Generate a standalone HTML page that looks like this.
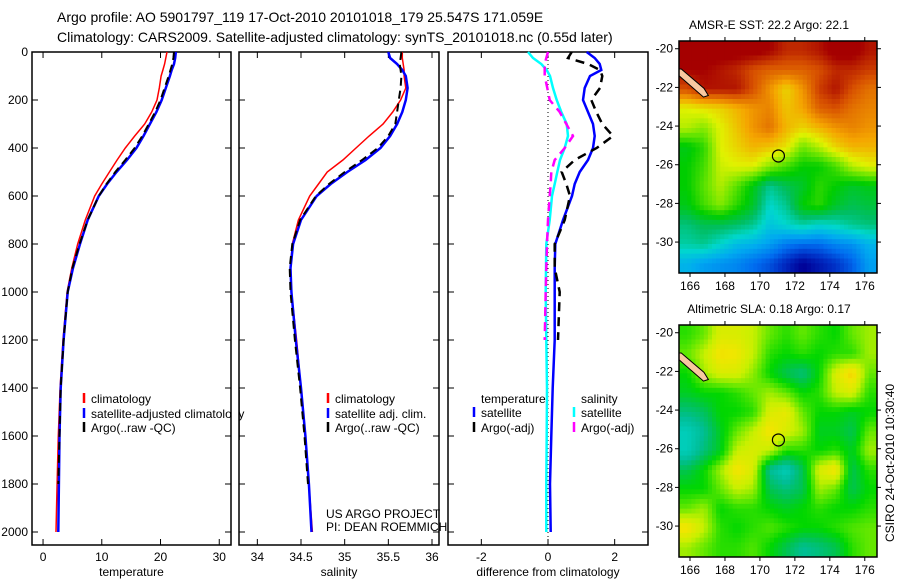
<!DOCTYPE html>
<html><head><meta charset="utf-8"><style>
body{margin:0;background:#fff;width:900px;height:580px;overflow:hidden}
svg{font-family:"Liberation Sans",sans-serif;font-size:12px}
</style></head><body>
<svg id="fig" width="900" height="580">
<text x="57" y="22" font-size="14">Argo profile: AO 5901797_119 17-Oct-2010 20101018_179 25.547S 171.059E</text>
<text x="57" y="42" font-size="14">Climatology: CARS2009. Satellite-adjusted climatology: synTS_20101018.nc (0.55d later)</text>
<text x="326" y="518">US ARGO PROJECT</text>
<text x="326" y="531">PI: DEAN ROEMMICH</text>
<text x="769" y="29" text-anchor="middle">AMSR-E SST: 22.2 Argo: 22.1</text>
<text x="769" y="313" text-anchor="middle">Altimetric SLA: 0.18 Argo: 0.17</text>
<text transform="translate(894,463) rotate(-90)" text-anchor="middle">CSIRO 24-Oct-2010 10:30:40</text>
</svg>
<script>
const depths=[0,25,50,75,100,150,200,250,300,350,400,450,500,550,600,700,800,900,1000,1200,1400,1600,1800,2000];
const tempClim=[21.1,20.9,20.7,20.4,20.1,19.8,19.4,18.5,17.3,15.6,14.0,12.6,11.3,10.0,8.8,7.2,5.9,4.9,4.1,3.4,2.9,2.6,2.4,2.2];
const tempSat=[22.6,22.5,22.3,21.9,21.6,20.9,20.2,19.3,18.2,17.1,15.9,14.3,12.5,10.9,9.5,7.6,6.3,5.1,4.2,3.5,3.0,2.8,2.7,2.6];
const tempArgo=[22.3,22.2,22.0,21.7,21.4,20.7,20.0,19.1,18.0,16.9,15.6,14.0,12.3,10.8,9.5,7.6,6.2,5.0,4.2,3.5,3.0,2.8,2.6,2.5];
const salClim=[35.66,35.66,35.67,35.68,35.68,35.7,35.64,35.55,35.44,35.28,35.13,34.98,34.8,34.7,34.6,34.47,34.4,34.38,34.39,34.45,34.5,34.55,34.59,34.63];
const salSat=[35.5,35.52,35.6,35.66,35.7,35.72,35.7,35.66,35.6,35.52,35.41,35.24,35.03,34.84,34.68,34.5,34.41,34.38,34.39,34.44,34.5,34.55,34.59,34.62];
const salArgo=[35.65,35.64,35.63,35.64,35.65,35.64,35.62,35.6,35.58,35.5,35.38,35.2,35.0,34.82,34.67,34.49,34.4,34.37,34.38,34.43,34.49,34.54,34.58,34.62];
const dTempSat=[1.16,1.4,1.55,1.6,1.26,1.1,1.05,1.2,1.35,1.4,1.35,1.2,0.95,0.8,0.72,0.45,0.22,0.2,0.2,0.2,0.14,0.1,0.06,0.08];
const dTempArgo=[0.71,0.6,1.2,1.56,1.63,1.56,1.3,1.45,1.63,1.95,1.46,0.8,0.41,0.55,0.66,0.5,0.2,0.2,0.35,0.3];
const dSalSat=[-0.6,-0.45,-0.2,-0.04,0.06,0.15,0.26,0.4,0.56,0.6,0.5,0.36,0.28,0.2,0.12,0.05,-0.05,-0.06,-0.07,-0.05,-0.03,-0.04,-0.05,-0.05];
const dSalArgo=[0.0,-0.05,-0.1,-0.1,-0.1,-0.02,0.05,0.35,0.55,0.75,0.5,0.2,0.1,0.08,0.05,0.0,-0.03,-0.05,-0.07,-0.1];
const tempTicks=[0,10,20,30];
const salTicks=[34,34.5,35,35.5,36];
const diffTicks=[-2,0,2];
const depthTicks=[0,200,400,600,800,1000,1200,1400,1600,1800,2000];
const latTicks=[-20,-22,-24,-26,-28,-30];
const lonTicks=[166,168,170,172,174,176];
const sstGrid=[
[24.5,24.5,24.5,24.5,24.5,24.4,24.2,24.2,24.3,24.5,24.5,24.3],
[24.4,24.4,24.3,24.2,24.0,23.9,23.9,23.9,24.0,24.2,24.2,24.1],
[24.0,24.3,24.3,24.3,24.0,23.6,23.2,23.6,24.1,24.3,24.0,23.8],
[23.0,23.1,23.2,23.4,23.6,23.7,23.3,23.5,23.9,24.0,23.8,23.7],
[22.8,22.6,23.0,23.3,23.6,23.8,23.4,23.2,23.4,23.6,23.7,23.6],
[21.9,22.2,23.0,23.2,23.4,23.3,23.1,22.5,22.8,23.2,23.4,23.4],
[22.0,22.3,22.9,23.0,23.0,22.6,22.3,22.0,22.0,22.3,22.8,23.0],
[22.0,22.4,22.8,22.4,21.9,21.3,21.6,21.8,22.2,22.0,21.8,21.9],
[21.9,22.3,22.6,22.2,21.8,21.0,21.3,22.0,22.2,21.8,21.6,21.7],
[21.4,21.6,21.6,21.5,21.3,20.8,21.0,21.2,21.0,21.1,21.3,21.4],
[21.2,21.3,21.0,20.7,20.6,20.4,20.1,20.0,20.0,20.2,20.3,20.6],
[20.6,20.4,20.3,20.2,20.0,19.8,19.5,19.2,19.4,19.6,19.9,20.4]];
const slaGrid=[
[0.12,0.15,0.22,0.22,0.2,0.15,0.12,0.15,0.12,0.1,0.15,0.18],
[0.15,0.2,0.26,0.25,0.2,0.12,0.1,0.12,0.1,0.12,0.12,0.18],
[0.1,0.18,0.22,0.22,0.17,0.1,0.05,0.02,0.1,0.22,0.28,0.15],
[0.08,0.1,0.1,0.12,0.15,0.18,0.15,0.1,0.12,0.2,0.22,0.12],
[0.02,0.04,0.1,0.1,0.12,0.22,0.24,0.15,0.1,0.1,0.08,0.1],
[-0.05,0.0,0.08,0.15,0.2,0.26,0.22,0.18,0.08,0.08,0.05,0.15],
[-0.05,0.02,0.08,0.2,0.22,0.2,0.12,0.12,0.1,0.12,0.08,0.18],
[0.05,0.1,0.18,0.26,0.22,0.0,-0.05,0.05,0.22,0.26,0.05,0.12],
[0.1,0.1,0.15,0.2,0.18,0.05,0.02,0.05,0.18,0.15,0.05,0.1],
[0.15,0.18,0.1,0.12,0.12,0.1,0.08,0.1,0.12,0.1,0.1,0.12],
[0.26,0.2,0.12,0.1,0.12,0.14,0.12,0.1,0.1,0.12,0.14,0.15],
[0.18,0.15,0.12,0.12,0.14,0.1,0.05,0.0,0.02,0.05,0.12,0.15]];
const argoLon=171.059, argoLat=-25.547;

const NS="http://www.w3.org/2000/svg";
const svg=document.getElementById('fig');
function mk(t,a,p){const e=document.createElementNS(NS,t);for(const k in a)e.setAttribute(k,a[k]);(p||svg).appendChild(e);return e;}
const Y0=52,Y1=545,yD=d=>52+d*0.24;
const panels=[
 {x0:32,x1:231,vmin:-1.88,vmax:32.0,ticks:tempTicks,title:'temperature',name:'temperature-panel'},
 {x0:239,x1:439,vmin:33.79,vmax:36.08,ticks:salTicks,title:'salinity',name:'salinity-panel'},
 {x0:448,x1:648,vmin:-3.0,vmax:3.0,ticks:diffTicks,title:'difference from climatology',name:'difference-panel'}];
panels.forEach(p=>{p.sx=v=>p.x0+(v-p.vmin)/(p.vmax-p.vmin)*(p.x1-p.x0);});
function series(p,vals,color,w,dash,name){
  let pts=vals.map((v,i)=>p.sx(v).toFixed(1)+','+yD(depths[i]).toFixed(1)).join(' ');
  const e=mk('polyline',{points:pts,fill:'none',stroke:color,'stroke-width':w,'stroke-dasharray':dash||'none'});
  
  
}
panels.forEach((p,pi)=>{
  const g=mk('g',{});
  
  
  mk('rect',{x:p.x0,y:Y0,width:p.x1-p.x0,height:Y1-Y0,fill:'none',stroke:'#000','stroke-width':1.5},g);
  p.ticks.forEach(t=>{const x=p.sx(t);
    mk('line',{x1:x,y1:Y1,x2:x,y2:Y1-6,stroke:'#000'},g);mk('line',{x1:x,y1:Y0,x2:x,y2:Y0+6,stroke:'#000'},g);
    const tx=mk('text',{x:x,y:561,'text-anchor':'middle'},g);tx.textContent=t;
    
    });
  depthTicks.forEach(d=>{const y=yD(d);
    mk('line',{x1:p.x0,y1:y,x2:p.x0+6,y2:y,stroke:'#000'},g);mk('line',{x1:p.x1,y1:y,x2:p.x1-6,y2:y,stroke:'#000'},g);
    if(pi==0){const tx=mk('text',{x:28,y:y+4,'text-anchor':'end'},g);tx.textContent=d;
      
      }});
  const tt=mk('text',{x:(p.x0+p.x1)/2,y:576,'text-anchor':'middle'},g);tt.textContent=p.title;
  
  
});
mk('line',{x1:panels[2].sx(0),y1:Y0,x2:panels[2].sx(0),y2:Y1,stroke:'#000','stroke-dasharray':'1,3'});
series(panels[0],tempClim,'#f00',1.5,null,'temp-climatology-line');
series(panels[0],tempSat,'#00f',2.5,null,'temp-satellite-line');
series(panels[0],tempArgo.slice(0,23),'#000',2,'8,5','temp-argo-line');
series(panels[1],salClim,'#f00',1.5,null,'sal-climatology-line');
series(panels[1],salSat,'#00f',2.5,null,'sal-satellite-line');
series(panels[1],salArgo.slice(0,23),'#000',2,'8,5','sal-argo-line');
series(panels[2],dTempSat,'#00f',2.5,null,'diff-temp-satellite-line');
series(panels[2],dTempArgo,'#000',2.5,'9,6','diff-temp-argo-line');
series(panels[2],dSalSat,'#0ff',2.5,null,'diff-sal-satellite-line');
series(panels[2],dSalArgo,'#f0f',2.5,'9,6','diff-sal-argo-line');
function leg(x,y,color,label){
  mk('line',{x1:x,y1:y-10,x2:x,y2:y,stroke:color,'stroke-width':2.5});
  const t=mk('text',{x:x+7,y:y});t.textContent=label;
  
  }
leg(84,403,'#f00','climatology');leg(84,418,'#00f','satellite-adjusted climatology');leg(84,432,'#000','Argo(..raw -QC)');
mk('rect',{x:232,y:390,width:7,height:50,fill:'#fff'});
mk('line',{x1:239,y1:390,x2:239,y2:440,stroke:'#000','stroke-width':1.5});
leg(328,403,'#f00','climatology');leg(328,418,'#00f','satellite adj. clim.');leg(328,432,'#000','Argo(..raw -QC)');
const t1=mk('text',{x:481,y:403});t1.textContent='temperature';


const t2=mk('text',{x:581,y:403});t2.textContent='salinity';


leg(474,417,'#00f','satellite');leg(474,432,'#000','Argo(-adj)');
leg(574,417,'#0ff','satellite');leg(574,432,'#f0f','Argo(-adj)');

const M={x0:679,x1:877,lon0:165.37,lon1:176.7,lat0:-19.6,lat1:-31.6,h:232};
const sstStops=[[19.2,[0,0,150]],[19.6,[0,50,200]],[20.0,[0,110,240]],[20.5,[0,170,240]],[21.0,[0,215,205]],[21.5,[0,190,100]],[22.0,[0,205,0]],[22.5,[110,230,0]],[23.0,[225,242,0]],[23.5,[245,165,0]],[24.0,[215,80,0]],[24.4,[165,0,0]]];
const slaStops=[[-0.1,[0,220,220]],[0.0,[0,190,150]],[0.05,[0,195,80]],[0.1,[0,215,0]],[0.15,[100,232,0]],[0.2,[200,240,0]],[0.25,[240,230,0]],[0.3,[245,190,0]]];
function cmap(st,v){if(v<=st[0][0])return st[0][1];for(let i=1;i<st.length;i++){if(v<=st[i][0]){const f=(v-st[i-1][0])/(st[i][0]-st[i-1][0]);return st[i][1].map((c,k)=>Math.round(st[i-1][1][k]+f*(c-st[i-1][1][k])));}}return st[st.length-1][1];}
function drawMap(top,grid,stops,name){
  const g=mk('g',{});
  
  
  const sx=lon=>M.x0+(lon-M.lon0)/(M.lon1-M.lon0)*(M.x1-M.x0);
  const sy=lat=>top+(lat-M.lat0)/(M.lat1-M.lat0)*M.h;
  const R=grid.length,C=grid[0].length,cw=(M.x1-M.x0)/C,ch=M.h/R,sub=4;
  for(let r=0;r<R;r++)for(let c=0;c<C;c++)for(let a=0;a<sub;a++)for(let b=0;b<sub;b++){
    const fr=r+(a+0.5)/sub-0.5,fc=c+(b+0.5)/sub-0.5;
    const r0=Math.max(0,Math.min(R-1,Math.floor(fr))),r1=Math.min(R-1,r0+1),c0=Math.max(0,Math.min(C-1,Math.floor(fc))),c1=Math.min(C-1,c0+1);
    const wr=Math.max(0,Math.min(1,fr-r0)),wc=Math.max(0,Math.min(1,fc-c0));
    const v=(grid[r0][c0]*(1-wc)+grid[r0][c1]*wc)*(1-wr)+(grid[r1][c0]*(1-wc)+grid[r1][c1]*wc)*wr;
    const col=cmap(stops,v);
    const cell=mk('rect',{x:(M.x0+(c+b/sub)*cw).toFixed(2),y:(top+(r+a/sub)*ch).toFixed(2),width:(cw/sub+0.4).toFixed(2),height:(ch/sub+0.4).toFixed(2),fill:'rgb('+col+')'},g);
    
    
  }
  const land=mk('polygon',{points:[[165.37,-21.05],[165.37,-21.4],[166.77,-22.5],[167.05,-22.42],[166.8,-22.05],[165.5,-21.05]].map(q=>sx(q[0])+','+sy(q[1])).join(' '),fill:'#f8c8a0',stroke:'#000','stroke-width':1},g);
  
  
  mk('rect',{x:M.x0,y:top,width:M.x1-M.x0,height:M.h,fill:'none',stroke:'#000','stroke-width':1.5},g);
  latTicks.forEach(l=>{const y=sy(l);mk('line',{x1:M.x0-4,y1:y,x2:M.x0,y2:y,stroke:'#000'},g);mk('line',{x1:M.x1,y1:y,x2:M.x1+4,y2:y,stroke:'#000'},g);
    const t=mk('text',{x:M.x0-6,y:y+4,'text-anchor':'end'},g);t.textContent=l;
    
    });
  lonTicks.forEach(l=>{const x=sx(l);mk('line',{x1:x,y1:top-4,x2:x,y2:top,stroke:'#000'},g);mk('line',{x1:x,y1:top+M.h,x2:x,y2:top+M.h+4,stroke:'#000'},g);
    const t=mk('text',{x:x,y:top+M.h+17,'text-anchor':'middle'},g);t.textContent=l;
    
    });
  const c=mk('circle',{cx:sx(argoLon),cy:sy(argoLat),r:6,fill:'none',stroke:'#000','stroke-width':1.2},g);
  
  
}
drawMap(41,sstGrid,sstStops,'sst-map');
drawMap(325,slaGrid,slaStops,'sla-map');
</script>
</body></html>
